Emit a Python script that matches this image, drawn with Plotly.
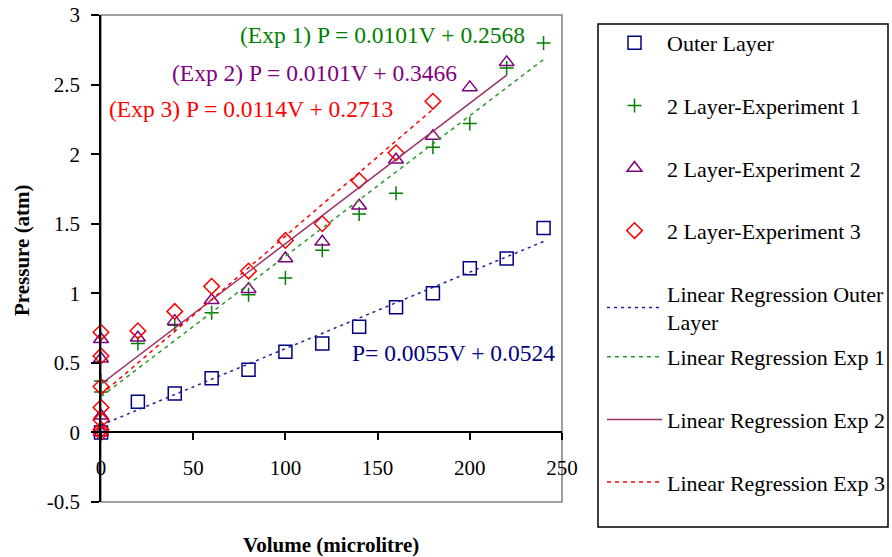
import plotly.graph_objects as go

# ---------------- data ----------------
outer_v = [0, 20, 40, 60, 80, 100, 120, 140, 160, 180, 200, 220, 240]
outer_p = [0.0, 0.22, 0.28, 0.39, 0.45, 0.58, 0.64, 0.76, 0.90, 1.00, 1.18, 1.25, 1.47]

exp1_v = [0, 0, 0, 20, 40, 60, 80, 100, 120, 140, 160, 180, 200, 220, 240]
exp1_p = [0.0, 0.29, 0.37, 0.64, 0.77, 0.86, 0.99, 1.11, 1.31, 1.57, 1.72, 2.05, 2.22, 2.62, 2.80]

exp2_v = [0, 0, 0, 0, 20, 40, 60, 80, 100, 120, 140, 160, 180, 200, 220]
exp2_p = [0.0, 0.12, 0.53, 0.67, 0.68, 0.80, 0.95, 1.03, 1.25, 1.37, 1.63, 1.96, 2.13, 2.48, 2.66]

exp3_v = [0, 0, 0, 0, 0, 0, 0, 20, 40, 60, 80, 100, 120, 140, 160, 180]
exp3_p = [0.0, 0.02, 0.09, 0.18, 0.33, 0.55, 0.72, 0.73, 0.87, 1.05, 1.16, 1.38, 1.50, 1.81, 2.01, 2.38]

# regression coefficients (slope, intercept) as printed on the chart
fit_outer = (0.0055, 0.0524)
fit_exp1 = (0.0101, 0.2568)
fit_exp2 = (0.0101, 0.3466)
fit_exp3 = (0.0114, 0.2713)

y_tickvals = [-0.5, 0, 0.5, 1, 1.5, 2, 2.5, 3]
y_ticktext = ["-0.5", "0", "0.5", "1", "1.5", "2", "2.5", "3"]
x_tickvals = [0, 50, 100, 150, 200, 250]
x_ticktext = ["0", "50", "100", "150", "200", "250"]

FONT = "Liberation Serif"
NAVY = "#000080"
GREEN = "#008000"
PURPLE = "#800080"
RED = "#ff0000"
EXP2LINE = "#993366"
Y_RANGE = [-0.5, 3.0005]

# page body margin is removed (post_script), so page pixels == figure pixels
W, H = 892, 557
M_L, M_R, M_T, M_B = 101, 330, 15, 55
PW, PH = W - M_L - M_R, H - M_T - M_B


def px_x(x):  # page pixel -> paper fraction
    return (x - M_L) / PW


def px_y(y):
    return (H - M_B - y) / PH


def fit_line(vs, coef):
    xs = [0, max(vs)]
    return xs, [coef[0] * x + coef[1] for x in xs]


fig = go.Figure()

marker_series = [
    ("Outer Layer", outer_v, outer_p, "square-open", NAVY, 13),
    ("2 Layer-Experiment 1", exp1_v, exp1_p, "cross-thin-open", GREEN, 10),
    ("2 Layer-Experiment 2", exp2_v, exp2_p, "triangle-up-open", PURPLE, 13),
    ("2 Layer-Experiment 3", exp3_v, exp3_p, "diamond-open", RED, 12),
]
for i, (name, xs, ys, sym, col, sz) in enumerate(marker_series):
    fig.add_trace(go.Scatter(
        x=xs, y=ys, mode="markers", name=name, legendgroup=f"g{i}",
        legend="legend", cliponaxis=False,
        marker=dict(symbol=sym, size=sz, color=col,
                    line=dict(color=col, width=1.5)),
    ))

line_series = [
    ("Linear Regression Outer<br>Layer", outer_v, fit_outer, "#2020a0", "3px,4px", "legend"),
    ("Linear Regression Exp 1", exp1_v, fit_exp1, "#2a9a2a", "4px,4px", "legend2"),
    ("Linear Regression Exp 2", exp2_v, fit_exp2, EXP2LINE, "solid", "legend2"),
    ("Linear Regression Exp 3", exp3_v, fit_exp3, RED, "4px,4px", "legend2"),
]
for i, (name, vs, coef, col, dash, lg) in enumerate(line_series):
    xs, ys = fit_line(vs, coef)
    fig.add_trace(go.Scatter(
        x=xs, y=ys, mode="lines", name=name, legendgroup=f"l{i}",
        legend=lg, line=dict(color=col, dash=dash, width=1.5),
    ))

annos = [
    ("(Exp 1) P = 0.0101V + 0.2568", 74.4, 2.857, GREEN),
    ("(Exp 2) P = 0.0101V + 0.3466", 37.5, 2.584, PURPLE),
    ("(Exp 3) P = 0.0114V + 0.2713", 3.4, 2.326, RED),
    ("P= 0.0055V + 0.0524", 135.0, 0.574, NAVY),
]
for text, ax_, ay_, col in annos:
    fig.add_annotation(x=ax_, y=ay_, xref="x", yref="y", text=text,
                       showarrow=False, xanchor="left", yanchor="middle",
                       font=dict(family=FONT, size=23.5, color=col))

fig.add_annotation(x=px_x(331), y=px_y(545), xref="paper", yref="paper",
                   text="<b>Volume (microlitre)</b>", showarrow=False,
                   xanchor="center", yanchor="middle",
                   font=dict(family=FONT, size=21, color="black"))
fig.add_annotation(x=px_x(22), y=px_y(250), xref="paper", yref="paper",
                   text="<b>Pressure (atm)</b>", showarrow=False, textangle=-90,
                   xanchor="center", yanchor="middle",
                   font=dict(family=FONT, size=21, color="black"))

# plot-area frame
fig.add_shape(type="rect", xref="paper", yref="paper", x0=0, y0=0, x1=1, y1=1,
              line=dict(color="#808080", width=1.5), layer="below")
# legend frame (both legend blocks share one box)
fig.add_shape(type="rect", xref="paper", yref="paper",
              x0=px_x(598), x1=px_x(888), y0=px_y(527), y1=px_y(24),
              line=dict(color="black", width=1.5), layer="below")

zero_pos = (0 - Y_RANGE[0]) / (Y_RANGE[1] - Y_RANGE[0])
legend_font = dict(family=FONT, size=22, color="black")

fig.update_layout(
    width=W, height=H,
    margin=dict(l=M_L, r=M_R, t=M_T, b=M_B),
    paper_bgcolor="white", plot_bgcolor="white",
    font=dict(family=FONT, size=21, color="black"),
    showlegend=True,
    legend=dict(
        xref="container", yref="container",
        x=602 / W, y=1 - 22 / H, xanchor="left", yanchor="top",
        borderwidth=0, bgcolor="rgba(0,0,0,0)", maxheight=500,
        font=legend_font, tracegroupgap=31, itemwidth=55, valign="middle",
    ),
    legend2=dict(
        xref="container", yref="container",
        x=602 / W, y=1 - 336 / H, xanchor="left", yanchor="top",
        borderwidth=0, bgcolor="rgba(0,0,0,0)", maxheight=500,
        font=legend_font, tracegroupgap=31, itemwidth=55, valign="middle",
    ),
    xaxis=dict(
        range=[0, 250], tickvals=x_tickvals, ticktext=x_ticktext,
        anchor="free", position=zero_pos, automargin=False,
        showline=True, linecolor="black", linewidth=1.5,
        ticks="outside", ticklen=7, tickcolor="black", tickwidth=1.5,
        ticklabelstandoff=10, ticklabeloverflow="allow",
        showgrid=False, zeroline=False,
        tickfont=dict(family=FONT, size=21, color="black"),
    ),
    yaxis=dict(
        range=Y_RANGE, tickvals=y_tickvals, ticktext=y_ticktext,
        automargin=False,
        showline=True, linecolor="black", linewidth=1.5,
        ticks="outside", ticklen=8, tickcolor="black", tickwidth=1.5,
        ticklabelstandoff=7, ticklabeloverflow="allow",
        showgrid=False, zeroline=False,
        tickfont=dict(family=FONT, size=21, color="black"),
    ),
)

fig.write_html("out.html",
               config={"displayModeBar": False},
               post_script="document.body.style.margin='0px';"
                           "document.body.style.overflow='hidden';")
